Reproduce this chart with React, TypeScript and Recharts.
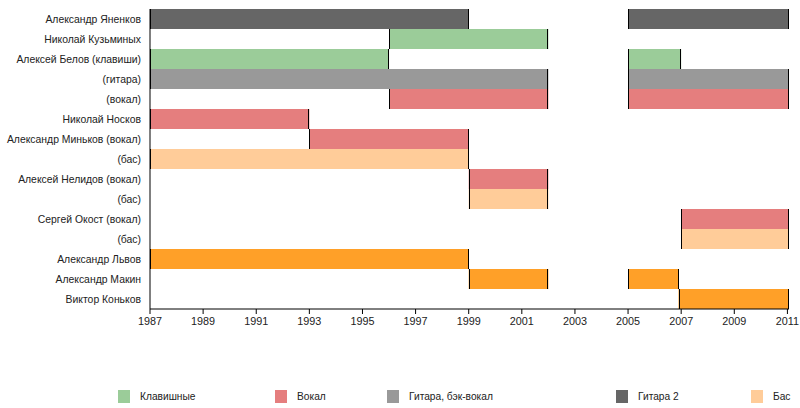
import { BarChart, Bar, XAxis, YAxis } from 'recharts'

// rows, top to bottom
const members = [
  'Александр Яненков',
  'Николай Кузьминых',
  'Алексей Белов (клавиши)',
  '(гитара)',
  '(вокал)',
  'Николай Носков',
  'Александр Миньков (вокал)',
  '(бас)',
  'Алексей Нелидов (вокал)',
  '(бас)',
  'Сергей Окост (вокал)',
  '(бас)',
  'Александр Львов',
  'Александр Макин',
  'Виктор Коньков',
]
const roles = [
  'guitar2', 'keys', 'keys', 'guitar', 'vocal', 'vocal', 'vocal', 'bass',
  'vocal', 'bass', 'vocal', 'bass', 'drums', 'drums', 'drums',
]
// first stint
const firstStart = [1987, 1996, 1987, 1987, 1996, 1987, 1993, 1987, 1999, 1999, 2007, 2007, 1987, 1999, 2006.9]
const firstEnd = [1999, 2002, 1996, 2002, 2002, 1993, 1999, 1999, 2002, 2002, 2011.06, 2011.06, 1999, 2002, 2011.06]
// second stint (null = none)
const secondStart = [2005, null, 2005, 2005, 2005, null, null, null, null, null, null, null, null, 2005, null]
const secondEnd = [2011.06, null, 2007, 2011.06, 2011.06, null, null, null, null, null, null, null, null, 2006.9, null]

const years = [1987, 1989, 1991, 1993, 1995, 1997, 1999, 2001, 2003, 2005, 2007, 2009, 2011]

const roleColor: Record<string, string> = {
  keys: '#9bcc99',
  vocal: '#e57e7e',
  guitar: '#999999',
  guitar2: '#666666',
  bass: '#ffcc99',
  drums: '#ffa028',
}

const legendRoles = ['keys', 'vocal', 'guitar', 'guitar2', 'bass']
const legendLabels = ['Клавишные', 'Вокал', 'Гитара, бэк-вокал', 'Гитара 2', 'Бас']

const rows = members.map((name, i) => ({
  name,
  color: roleColor[roles[i]],
  first: [firstStart[i], firstEnd[i]],
  second: secondStart[i] != null ? [secondStart[i], secondEnd[i]] : null,
}))

const makeShape = (key: 'first' | 'second') => (props: any) => {
  const { x, y, width, height, payload } = props
  if (!payload || !payload[key] || !(width > 0)) return <g />
  const x0 = Math.round(x) + 0.5
  const x1 = Math.round(x + width) - 0.5
  return (
    <g>
      <rect x={x} y={y} width={width} height={height} fill={payload.color} />
      <line x1={x0} x2={x0} y1={y} y2={y + height} stroke="#000" strokeWidth={1} />
      <line x1={x1} x2={x1} y1={y} y2={y + height} stroke="#000" strokeWidth={1} />
    </g>
  )
}

// single-line member label (the default tick wraps long names)
const MemberTick = (props: any) => {
  const { x, y, payload } = props
  return (
    <text x={x} y={y} dy="0.355em" textAnchor="end" fill="#222" fontSize={10.4}>
      {payload.value}
    </text>
  )
}

const legendLeft = [118, 275, 387, 616, 751]

export default function App() {
  return (
    <div
      style={{
        position: 'absolute',
        left: 0,
        top: 0,
        width: 800,
        height: 408,
        background: '#fff',
        fontFamily: '"Liberation Sans", Arial, sans-serif',
      }}
    >
      <BarChart
        width={800}
        height={408}
        data={rows}
        layout="vertical"
        barCategoryGap={0}
        barGap={0}
        margin={{ top: 9, right: 11, left: 0, bottom: 69 }}
      >
        <XAxis
          type="number"
          domain={[1987, 2011.06]}
          ticks={years}
          interval={0}
          height={30}
          tick={{ fill: '#222', fontSize: 10.8 }}
          stroke="#000"
          tickSize={5}
          tickMargin={3}
        />
        <YAxis
          yAxisId="a"
          type="category"
          dataKey="name"
          width={150}
          tickLine={false}
          tickSize={6}
          tickMargin={3}
          stroke="#000"
          tick={<MemberTick />}
          interval={0}
        />
        <YAxis yAxisId="b" type="category" dataKey="name" hide />
        <Bar
          yAxisId="a"
          dataKey={(d: any) => d.first}
          shape={makeShape('first')}
          isAnimationActive={false}
        />
        <Bar
          yAxisId="b"
          dataKey={(d: any) => (d.second ? d.second : [1987, 1987])}
          shape={makeShape('second')}
          isAnimationActive={false}
        />
      </BarChart>
      {legendRoles.map((r, i) => (
        <div
          key={r}
          style={{
            position: 'absolute',
            left: legendLeft[i],
            top: 390,
            display: 'flex',
            alignItems: 'center',
            fontSize: 10.2,
            color: '#222',
            whiteSpace: 'nowrap',
          }}
        >
          <span style={{ display: 'inline-block', width: 12, height: 13, background: roleColor[r], marginRight: 10 }} />
          <span>{legendLabels[i]}</span>
        </div>
      ))}
    </div>
  )
}
